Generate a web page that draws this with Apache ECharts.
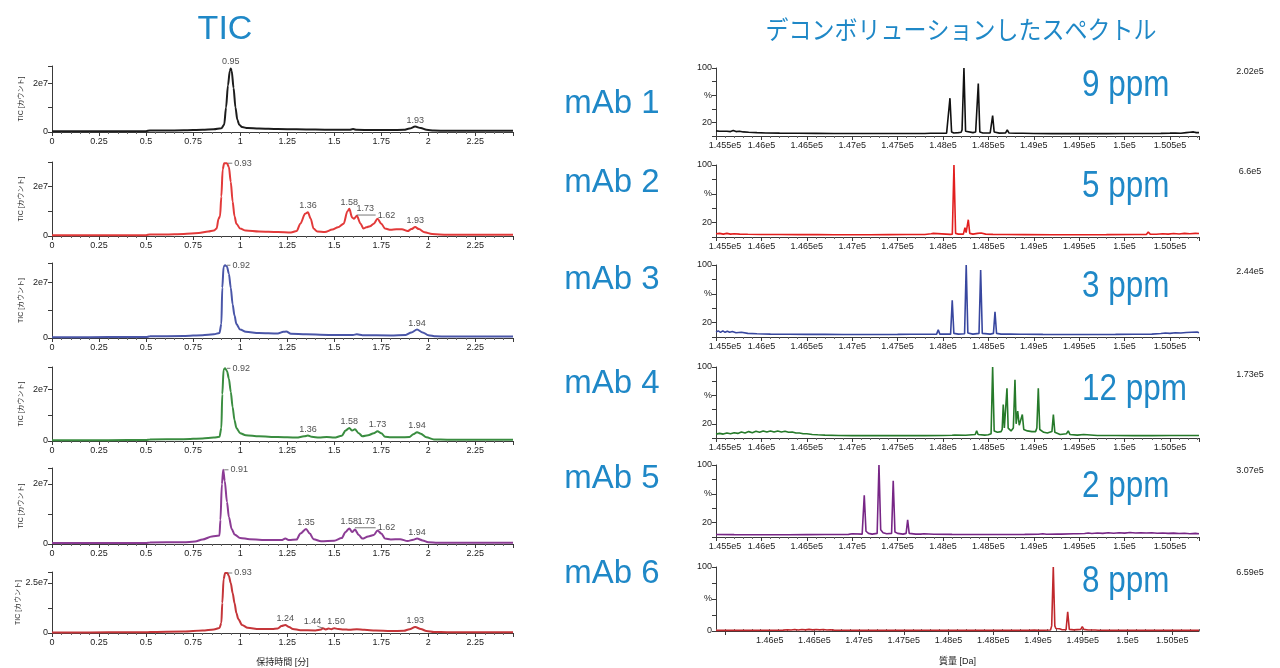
<!DOCTYPE html>
<html>
<head>
<meta charset="utf-8">
<script src="https://cdn.jsdelivr.net/npm/echarts@6/dist/echarts.min.js"></script>
<style>
  html, body { margin: 0; padding: 0; background: #fff; }
  #chart { width: 1280px; height: 668px; }
</style>
</head>
<body>
<div id="chart"></div>
<script>
// ---------- data ----------
const sampleNames = ['mAb 1', 'mAb 2', 'mAb 3', 'mAb 4', 'mAb 5', 'mAb 6'];
const massErrorPpm = [9, 5, 3, 12, 2, 8];
const spectrumMaxIntensity = ['2.02e5', '6.6e5', '2.44e5', '1.73e5', '3.07e5', '6.59e5'];

// TIC axis top and labelled tick (units of 1e6 counts)
const ticAxisMax = [27, 30, 26.8, 28.5, 25.3, 30.5];
const ticLabelledTick = [20, 20, 20, 20, 20, 25];

const massTicks = [145500, 146000, 146500, 147000, 147500, 148000, 148500, 149000, 149500, 150000, 150500];

// TIC traces: [retention time (min), intensity (1e6 counts)]
const ticMab1 = [[0,0.3],[0.1,0.3],[0.2,0.35],[0.3,0.3],[0.4,0.35],[0.5,0.35],[0.52,0.6],[0.6,0.6],[0.7,0.7],[0.8,0.9],[0.86,1.1],[0.9,1.5],[0.915,3],[0.925,10],[0.935,19],[0.945,25],[0.95,26],[0.955,25],[0.965,18],[0.975,10],[0.985,5],[0.995,3],[1.01,2],[1.04,1.6],[1.1,1.4],[1.2,1.2],[1.3,1.1],[1.4,1.0],[1.5,0.9],[1.58,0.9],[1.6,1.2],[1.62,0.9],[1.7,0.8],[1.8,0.8],[1.87,0.9],[1.9,1.4],[1.93,2.2],[1.96,1.6],[1.99,0.9],[2.03,0.6],[2.1,0.5],[2.2,0.5],[2.3,0.5],[2.45,0.5]];
const ticMab2 = [[0,0.3],[0.2,0.3],[0.4,0.35],[0.5,0.35],[0.52,0.6],[0.6,0.6],[0.7,0.8],[0.78,1.2],[0.83,1.8],[0.86,2.2],[0.875,3],[0.885,7],[0.893,8],[0.9,16],[0.907,27],[0.915,29.5],[0.93,29.5],[0.94,28],[0.95,22],[0.96,14],[0.97,8],[0.98,5],[1.0,3],[1.03,2.2],[1.1,1.8],[1.2,1.6],[1.27,1.4],[1.3,2],[1.32,5],[1.345,9],[1.36,9.6],[1.375,7],[1.39,3],[1.41,1.8],[1.45,1.6],[1.49,2.6],[1.52,3.5],[1.55,5],[1.57,10],[1.58,11],[1.595,7.5],[1.605,7],[1.62,8.2],[1.64,5],[1.655,3],[1.67,3.5],[1.69,4],[1.71,5],[1.73,7],[1.75,5],[1.77,3],[1.8,2.5],[1.83,2.7],[1.86,2.7],[1.89,2],[1.91,2.8],[1.93,3.6],[1.95,2.8],[1.98,1.5],[2.02,0.8],[2.1,0.5],[2.3,0.5],[2.45,0.5]];
const ticMab3 = [[0,0.3],[0.2,0.3],[0.4,0.35],[0.5,0.35],[0.52,0.6],[0.7,0.7],[0.8,1.0],[0.86,1.3],[0.89,1.8],[0.9,5],[0.905,18],[0.912,25.5],[0.92,26],[0.93,25.5],[0.94,23],[0.95,18],[0.96,12],[0.97,8],[0.98,5],[1.0,3],[1.03,2.2],[1.1,1.8],[1.2,1.6],[1.23,2.2],[1.245,2.3],[1.27,1.5],[1.35,1.3],[1.5,1.1],[1.6,1.1],[1.62,1.3],[1.65,1.0],[1.8,0.9],[1.88,1.1],[1.91,2],[1.94,3],[1.97,2],[2.0,1.0],[2.04,0.6],[2.1,0.5],[2.3,0.5],[2.45,0.5]];
const ticMab4 = [[0,0.3],[0.2,0.3],[0.4,0.35],[0.5,0.35],[0.52,0.6],[0.7,0.7],[0.8,1.0],[0.86,1.3],[0.89,1.6],[0.9,5],[0.905,18],[0.912,27.5],[0.92,28],[0.93,27],[0.94,24],[0.95,19],[0.96,13],[0.97,8],[0.98,5],[1.0,3],[1.03,2.2],[1.1,1.8],[1.2,1.5],[1.3,1.3],[1.34,1.8],[1.36,2.1],[1.38,1.6],[1.42,1.3],[1.46,1.5],[1.5,1.3],[1.54,2],[1.56,4],[1.58,5],[1.595,4],[1.61,4.5],[1.63,3],[1.65,1.8],[1.68,2.2],[1.71,3],[1.73,3.8],[1.75,3],[1.77,1.6],[1.8,1.4],[1.85,1.4],[1.9,1.5],[1.92,2.6],[1.94,3.4],[1.96,2.8],[1.99,1.4],[2.03,0.6],[2.1,0.5],[2.3,0.5],[2.45,0.5]];
const ticMab5 = [[0,0.3],[0.2,0.3],[0.4,0.35],[0.5,0.35],[0.52,0.5],[0.7,0.6],[0.76,0.8],[0.8,1.5],[0.85,2.5],[0.89,2.8],[0.895,8],[0.903,20],[0.91,24.7],[0.918,21],[0.93,14],[0.94,9],[0.955,5],[0.97,3.2],[1.0,2],[1.05,1.6],[1.15,1.3],[1.22,1.3],[1.24,1.8],[1.26,1.3],[1.3,1.5],[1.32,3.5],[1.35,5],[1.37,3.5],[1.39,1.6],[1.43,0.9],[1.5,1.1],[1.54,2],[1.56,4],[1.58,5.2],[1.595,4],[1.61,4.8],[1.63,3],[1.65,1.8],[1.68,2.5],[1.71,3],[1.73,4.5],[1.75,3.5],[1.77,1.8],[1.8,1.5],[1.85,1.6],[1.89,1.0],[1.92,1.4],[1.94,1.8],[1.97,1.2],[2.0,0.6],[2.05,0.4],[2.2,0.4],[2.45,0.4]];
const ticMab6 = [[0,0.3],[0.2,0.3],[0.4,0.35],[0.5,0.35],[0.52,0.5],[0.7,0.7],[0.8,1.2],[0.86,1.8],[0.89,2.5],[0.9,5],[0.905,15],[0.912,27],[0.92,30],[0.932,30],[0.94,28.5],[0.95,25],[0.96,20],[0.97,15],[0.98,10],[0.99,7],[1.01,4],[1.04,2.6],[1.1,2],[1.17,2],[1.2,2.3],[1.22,3.5],[1.24,4],[1.26,3],[1.28,2],[1.32,1.4],[1.4,1.3],[1.43,1.7],[1.44,2.4],[1.455,1.8],[1.47,2.2],[1.485,1.9],[1.5,2.4],[1.52,2.0],[1.55,1.8],[1.58,1.6],[1.62,1.9],[1.66,1.6],[1.72,1.2],[1.8,1.0],[1.87,1.1],[1.9,1.9],[1.93,3],[1.96,2],[1.99,1.0],[2.03,0.5],[2.1,0.4],[2.3,0.4],[2.45,0.4]];

// Deconvoluted spectra: [mass (Da), relative intensity (%)]
const specMab1 = [[145500,7.5],[145520,9],[145540,7],[145560,9],[145580,7],[145600,8.5],[145620,7],[145640,8.5],[145660,6.5],[145690,8],[145720,6.5],[145760,7],[145800,6],[145860,5.5],[145950,5],[146050,4.5],[146200,4.2],[146400,4],[146600,3.8],[146800,3.7],[147000,3.6],[147200,3.6],[147400,3.6],[147600,3.7],[147800,3.7],[147860,4],[147875,6],[147890,4],[147990,4],[148040,4.2],[148052,7],[148060,6],[148077,55.6],[148095,6],[148120,4.5],[148170,5],[148200,5.5],[148210,9],[148214,8],[148231,100],[148249,7],[148270,5],[148330,5],[148360,6],[148368,8],[148372,7],[148389,77],[148406,6],[148440,4.5],[148520,4.5],[148530,6],[148547,30],[148564,6],[148620,4.2],[148690,4.5],[148708,9],[148726,4.5],[148800,4],[148855,4],[148867,6],[148880,4],[149000,3.6],[149200,3.5],[149400,3.5],[149600,3.5],[149800,3.5],[150000,3.6],[150180,3.6],[150200,4.5],[150220,3.6],[150400,3.8],[150500,4.2],[150560,4.5],[150620,4],[150680,5],[150720,5.5],[150760,6],[150790,5],[150820,5]];
const specMab2 = [[145500,4.5],[145540,5],[145580,4],[145620,5],[145660,4],[145700,4.5],[145760,4],[145850,3.8],[146000,3.5],[146200,3.4],[146400,3.3],[146580,3.3],[146600,4],[146620,3.3],[146800,3.2],[147000,3.2],[147200,3.2],[147400,3.3],[147600,3.4],[147800,3.5],[147870,4.5],[147893,5],[147910,4],[148080,3.6],[148103,4],[148121,100],[148139,5],[148155,6],[148170,4],[148225,4],[148242,13],[148255,6],[148262,8],[148279,24],[148295,5],[148330,4],[148380,5],[148400,4.5],[148420,5.5],[148440,5],[148470,4],[148550,3.6],[148700,3.4],[148900,3.3],[149200,3.2],[149500,3.2],[149800,3.3],[150100,3.5],[150240,3.6],[150261,7],[150282,4],[150350,3.8],[150420,4.5],[150480,4],[150540,4.8],[150600,4.2],[150660,5],[150720,4.5],[150780,5],[150820,4.8]];
const specMab3 = [[145500,7],[145525,8.5],[145550,6.5],[145575,8.5],[145600,6.5],[145625,8],[145650,6.5],[145680,7.5],[145720,6],[145780,6.5],[145850,5],[145950,4.5],[146100,4],[146300,3.8],[146500,3.7],[146700,3.6],[146900,3.5],[147060,3.5],[147080,4.5],[147100,3.5],[147300,3.5],[147500,3.6],[147640,3.8],[147655,5],[147670,3.8],[147790,3.8],[147802,5],[147815,3.8],[147930,4],[147948,10],[147965,4],[148084,4],[148102,51],[148120,5],[148170,4],[148238,4.5],[148256,100],[148274,5.5],[148330,4],[148397,5],[148415,93],[148433,5],[148520,4],[148556,5],[148573,35],[148590,5],[148640,4],[148715,4],[148730,6],[148745,4],[148850,3.8],[148870,4.5],[148900,3.8],[149100,3.6],[149300,3.5],[149500,3.5],[149700,3.5],[149900,3.6],[150100,3.8],[150300,4],[150400,4.8],[150450,5.5],[150500,5],[150560,6],[150620,5.5],[150680,6.2],[150740,6.5],[150800,6.8],[150820,6]];
const specMab4 = [[145500,5.5],[145540,6.5],[145580,5.5],[145620,7],[145660,6],[145700,7.5],[145740,6.5],[145780,8.5],[145820,7],[145860,9],[145900,7.5],[145940,9.5],[145980,8],[146020,10],[146060,8.5],[146100,10],[146140,8.5],[146180,10],[146220,8.5],[146260,9.5],[146300,8],[146340,8.5],[146380,7],[146420,7],[146460,6],[146500,6],[146560,5],[146620,4.5],[146700,4],[146850,3.6],[147000,3.4],[147200,3.3],[147400,3.3],[147600,3.3],[147800,3.4],[148000,3.5],[148100,3.8],[148114,6],[148128,4],[148250,3.8],[148355,5],[148371,10],[148387,5],[148460,4],[148500,4.5],[148530,6],[148547,100],[148564,10],[148600,8],[148640,9],[148652,12],[148664,47],[148676,14],[148690,16],[148705,70],[148718,14],[148750,10],[148775,14],[148793,82],[148806,20],[148823,38],[148840,18],[148856,16],[148874,33],[148890,12],[148930,10],[148980,9],[149020,9],[149034,14],[149050,70],[149066,12],[149110,8],[149150,7],[149200,9],[149216,33],[149232,8],[149290,5],[149360,6],[149380,10],[149398,5],[149480,4],[149550,5],[149570,4],[149700,3.6],[149900,3.5],[150100,3.4],[150300,3.4],[150500,3.5],[150700,3.6],[150820,3.6]];
const specMab5 = [[145500,3.5],[145700,3.3],[145900,3.2],[146100,3.2],[146300,3.2],[146500,3.3],[146700,3.4],[146850,3.5],[146870,4.5],[146890,3.5],[146960,3.6],[147000,4.5],[147020,3.6],[147110,4],[147133,58],[147152,8],[147180,5],[147220,4],[147275,5],[147295,100],[147314,10],[147340,6],[147380,4.5],[147434,5],[147452,78],[147471,7],[147500,5],[147560,4],[147594,5],[147611,24],[147628,5],[147700,4],[147755,4],[147772,6.5],[147790,4.5],[147900,3.8],[148100,3.6],[148300,3.5],[148500,3.5],[148700,3.5],[148900,3.6],[149050,3.8],[149100,4.5],[149140,3.8],[149260,4],[149280,6.5],[149300,4],[149440,4.5],[149460,6],[149480,4.5],[149560,4.8],[149600,5.5],[149640,4.8],[149700,5.5],[149760,5],[149820,5.8],[149880,5.2],[149940,6],[150000,5.4],[150060,6.2],[150120,5.5],[150180,6],[150240,5.5],[150300,5.8],[150360,5.2],[150420,5.6],[150480,5],[150540,5.4],[150600,4.8],[150660,5.2],[150720,4.6],[150780,5],[150820,4.6]];
const specMab6 = [[145400,1],[145600,1],[145800,1],[146000,1.2],[146150,1.4],[146200,2],[146240,1.5],[146280,2.3],[146320,1.6],[146360,2.4],[146400,1.7],[146440,2.5],[146480,1.8],[146520,2.4],[146560,1.7],[146600,2.3],[146640,1.6],[146680,2],[146720,1.4],[146800,1.2],[147000,1],[147300,1],[147600,1],[147720,1.2],[147737,4],[147754,1.2],[147900,1],[148100,1],[148400,1],[148700,1],[148900,1],[148960,1.5],[149000,1],[149140,1.5],[149153,8],[149171,100],[149188,8],[149200,4],[149215,3],[149240,3.5],[149270,2],[149314,2],[149332,30],[149350,2.5],[149400,1.8],[149478,2.5],[149495,7],[149512,2.5],[149560,1.5],[149640,1.5],[149656,3],[149672,1.2],[149800,1],[150000,1],[150200,1],[150400,1],[150600,1],[150800,1]];

// Peak annotations: [retention time shown, anchor time, anchor intensity, placement]
const ticPeakLabels = [
  [[0.95, 0.95, 26, 'top'], [1.93, 1.93, 2.2, 'top']],
  [[0.93, 0.958, 29.5, 'right'], [1.36, 1.36, 9.6, 'top'], [1.58, 1.58, 11, 'top'], [1.73, 1.665, 8.5, 'top'], [1.62, 1.72, 8.5, 'right'], [1.93, 1.93, 3.6, 'top']],
  [[0.92, 0.948, 26, 'right'], [1.94, 1.94, 3, 'top']],
  [[0.92, 0.948, 28, 'right'], [1.36, 1.36, 2.1, 'top'], [1.58, 1.58, 5, 'top'], [1.73, 1.73, 3.8, 'top'], [1.94, 1.94, 3.4, 'top']],
  [[0.91, 0.938, 24.7, 'right'], [1.35, 1.35, 5, 'top'], [1.58, 1.58, 5.2, 'top'], [1.73, 1.67, 5.4, 'top'], [1.62, 1.72, 5.4, 'right'], [1.94, 1.94, 1.8, 'top']],
  [[0.93, 0.958, 30, 'right'], [1.24, 1.24, 4, 'top'], [1.44, 1.385, 2.6, 'top'], [1.50, 1.51, 2.4, 'top'], [1.93, 1.93, 3, 'top']]
];
// Leader lines joining a peak to its moved label
const ticLeaders = [
  [],
  [[[0.935, 29.5], [0.958, 29.5]], [[1.62, 8.5], [1.72, 8.5]]],
  [[[0.93, 26], [0.948, 26]]],
  [[[0.93, 28], [0.948, 28]]],
  [[[0.915, 24.7], [0.938, 24.7]], [[1.61, 5.4], [1.72, 5.4]]],
  [[[0.935, 30], [0.958, 30]], [[1.41, 3.4], [1.44, 2.4]]]
];

// ---------- layout & style ----------
const ticData = [ticMab1, ticMab2, ticMab3, ticMab4, ticMab5, ticMab6];
const specData = [specMab1, specMab2, specMab3, specMab4, specMab5, specMab6];
const ticColors = ['#1c1c1c', '#e23a3a', '#4a56a8', '#3a8d40', '#8c3c95', '#c5363a'];
const specColors = ['#111111', '#e21f1f', '#38479f', '#267a2a', '#772686', '#c0282c'];
const BLUE = '#1f88c7';
const FONT = "'Liberation Sans', 'Noto Sans CJK JP', sans-serif";
const AX = '#3a3a3a';

const ticTop = [66, 162, 263, 367, 468, 572];
const ticBottom = [132, 236, 338, 441, 544, 633];
const specTop = [68, 165, 265, 367, 465, 567];
const specBottom = [136, 237, 337, 438, 537, 631];
const labelY = [104, 183, 280, 384, 479, 574];
const ppmY = [86, 187, 287, 390, 487, 582];
const maxY = [72, 172, 272, 375, 471, 573];

const onStep = (v, s) => Math.abs(v / s - Math.round(v / s)) < 1e-6;
const massLabel = v => parseFloat((v / 1e5).toFixed(4)) + 'e5';

// grids/axes 0-5: chromatograms, 6-11: spectra, 12: minor ticks of the last spectrum
const grids = [], xAxes = [], yAxes = [], series = [], graphics = [];

for (let i = 0; i < 6; i++) {
  grids.push({ left: 52, top: ticTop[i], width: 461, height: ticBottom[i] - ticTop[i] });
  xAxes.push({
    type: 'value', gridIndex: i, min: 0, max: 2.45, interval: 0.25,
    axisLine: { onZero: false, lineStyle: { color: AX, width: 1 } },
    axisTick: { length: 4, lineStyle: { color: AX } },
    minorTick: { show: true, splitNumber: 5, length: 2, lineStyle: { color: '#666' } },
    splitLine: { show: false }, minorSplitLine: { show: false },
    axisLabel: { fontSize: 9, color: '#222', margin: 5, fontFamily: FONT, showMinLabel: true,
      formatter: v => onStep(v, 0.25) ? String(parseFloat(v.toFixed(2))) : '' },
    name: i === 5 ? '保持時間 [分]' : '', nameLocation: 'middle', nameGap: 25,
    nameTextStyle: { fontSize: 9, color: '#222', fontFamily: FONT }
  });
  yAxes.push({
    type: 'value', gridIndex: i, min: 0, max: ticAxisMax[i], interval: ticLabelledTick[i] / 2,
    axisLine: { show: true, onZero: false, lineStyle: { color: AX, width: 1 } },
    axisTick: { show: true, length: 4, lineStyle: { color: AX } },
    splitLine: { show: false },
    axisLabel: { fontSize: 9, color: '#222', margin: 4, fontFamily: FONT,
      formatter: v => v === 0 ? '0' : (Math.abs(v - ticLabelledTick[i]) < 1e-9 ? (ticLabelledTick[i] / 10) + 'e7' : '') },
    name: 'TIC [カウント]', nameLocation: 'middle', nameRotate: 90, nameGap: 27,
    nameTextStyle: { fontSize: 7, color: '#333', fontFamily: FONT }
  });
  series.push({
    type: 'line', xAxisIndex: i, yAxisIndex: i, data: ticData[i],
    symbol: 'none', smooth: 0.3, smoothMonotone: 'x', silent: true,
    lineStyle: { color: ticColors[i], width: 2 }
  });
  series.push({
    type: 'scatter', xAxisIndex: i, yAxisIndex: i, symbolSize: 0, silent: true,
    data: ticPeakLabels[i].map(p => ({ value: [p[1], p[2]], name: p[0].toFixed(2), label: { position: p[3] } })),
    label: { show: true, formatter: '{b}', fontSize: 9, color: '#222', distance: 2, fontFamily: FONT }
  });
  ticLeaders[i].forEach(seg => series.push({
    type: 'line', xAxisIndex: i, yAxisIndex: i, data: seg, symbol: 'none', silent: true,
    lineStyle: { color: '#555', width: 0.8 }
  }));
}

for (let i = 0; i < 6; i++) {
  const g = 6 + i;
  const last = i === 5;
  const axMin = last ? 145400 : 145500;
  grids.push({ left: 716, top: specTop[i], width: 483, height: specBottom[i] - specTop[i] });
  const xa = {
    type: 'value', gridIndex: g,
    min: axMin, max: last ? 150800 : 150820,
    axisLine: { onZero: false, lineStyle: { color: AX, width: 1 } },
    axisTick: { length: 4, lineStyle: { color: AX } },
    splitLine: { show: false }, minorSplitLine: { show: false },
    axisLabel: { fontSize: 9, color: '#222', margin: 5, fontFamily: FONT,
      // the first label sits just inside the axis start
      formatter: v => (v % 500 !== 0) ? '' : (v === axMin ? '{first|' + massLabel(v) + '}' : massLabel(v)),
      rich: { first: { fontSize: 9, color: '#222', fontFamily: FONT, padding: [0, 0, 0, 18] } } },
    name: last ? '質量 [Da]' : '', nameLocation: 'middle', nameGap: 26,
    nameTextStyle: { fontSize: 9, color: '#222', fontFamily: FONT }
  };
  if (last) {
    xa.axisLabel.customValues = massTicks.slice(1);
    xa.axisTick.customValues = massTicks;
  } else {
    xa.interval = 500;
    xa.axisLabel.showMinLabel = true;
    xa.minorTick = { show: true, splitNumber: 5, length: 2, lineStyle: { color: '#666' } };
  }
  xAxes.push(xa);
  yAxes.push({
    type: 'value', gridIndex: g, min: 0, max: 100, interval: last ? 25 : 20,
    axisLine: { show: true, onZero: false, lineStyle: { color: AX, width: 1 } },
    axisTick: { show: true, length: 4, lineStyle: { color: AX } },
    splitLine: { show: false },
    axisLabel: { fontSize: 9, color: '#222', margin: 4, fontFamily: FONT,
      formatter: v => {
        if (v === 100) return '100';
        if (!last) { if (v === 60) return '%'; if (v === 20) return '20'; }
        else { if (v === 50) return '%'; if (v === 0) return '0'; }
        return '';
      } }
  });
  series.push({
    type: 'line', xAxisIndex: g, yAxisIndex: g, data: specData[i],
    symbol: 'none', silent: true,
    lineStyle: { color: specColors[i], width: 1.6 }
  });

  graphics.push({ type: 'text', x: 612, y: labelY[i], scaleX: 0.97,
    style: { text: sampleNames[i], font: '34px ' + FONT, fill: BLUE, align: 'center', verticalAlign: 'middle' } });
  graphics.push({ type: 'text', x: 1082, y: ppmY[i], scaleX: 0.85,
    style: { text: massErrorPpm[i] + ' ppm', font: '37px ' + FONT, fill: BLUE, align: 'left', verticalAlign: 'middle' } });
  graphics.push({ type: 'text', x: 1250, y: maxY[i],
    style: { text: spectrumMaxIntensity[i], font: '9px ' + FONT, fill: '#222', align: 'center', verticalAlign: 'middle' } });
}

// minor ticks for the last spectrum axis
const minorMass = [];
for (let m = 145400; m <= 150800; m += 100) minorMass.push(m);
xAxes.push({
  type: 'value', gridIndex: 11, min: 145400, max: 150800,
  axisLine: { show: false }, splitLine: { show: false },
  axisTick: { show: true, length: 2, customValues: minorMass, lineStyle: { color: '#666' } },
  axisLabel: { show: false }
});

graphics.push({ type: 'text', x: 225, y: 30,
  style: { text: 'TIC', font: '34px ' + FONT, fill: BLUE, align: 'center', verticalAlign: 'middle' } });
graphics.push({ type: 'text', x: 961, y: 29, scaleX: 0.92,
  style: { text: 'デコンボリューションしたスペクトル', font: "25px 'Noto Sans CJK JP'", fill: BLUE, align: 'center', verticalAlign: 'middle' } });

const chart = echarts.init(document.getElementById('chart'), null, { renderer: 'canvas' });
chart.setOption({
  animation: false,
  backgroundColor: '#fff',
  textStyle: { fontFamily: FONT },
  grid: grids,
  xAxis: xAxes,
  yAxis: yAxes,
  series: series,
  graphic: graphics
});
</script>
</body>
</html>
